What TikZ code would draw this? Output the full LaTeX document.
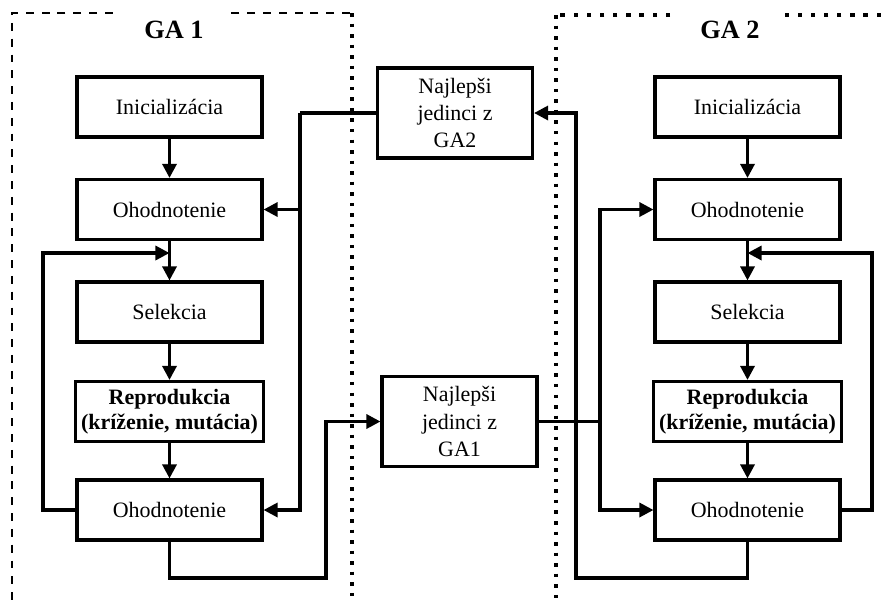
\documentclass[tikz,border=0pt]{standalone}
\usepackage{fontspec}
\setmainfont{Liberation Serif}
\usetikzlibrary{positioning}
\usetikzlibrary{arrows.meta}

\begin{document}
\begin{tikzpicture}[x=0.02cm,y=-0.02cm,
    krok/.style={draw,line width=1.8pt,minimum width=3.7cm,minimum height=1.2cm,font=\fontsize{12.5}{14.5}\selectfont,align=center},
    najlepsi/.style={draw,line width=1.8pt,minimum width=3.1cm,minimum height=1.8cm,font=\fontsize{12.5}{15.5}\selectfont,align=center},
    spoj/.style={line width=1.8pt},
    sip/.style={line width=1.8pt,-{Triangle[length=8pt,width=8pt]}},
    hranica/.style={line width=0.7pt,dash pattern=on 4.5pt off 4.5pt},
    bodky/.style={line width=2pt,dash pattern=on 2pt off 4pt},
    bodky2/.style={line width=2pt,dash pattern=on 2.5pt off 5pt},
    nadpis/.style={fill=white,font=\fontsize{15}{17}\selectfont\bfseries,minimum width=2.2cm,minimum height=1.1cm}]
    \useasboundingbox (0,0) rectangle (881,600);
    % hranice oboch GA
    \draw[hranica] (350,13) -- (12,13) -- (12,600);
    \draw[bodky] (352,13) -- (352,600);
    \draw[bodky2] (881,15) -- (556,15);
    \draw[bodky] (556,15) -- (556,600);
    \node[nadpis] (ga1) at (174,30) {GA 1};
    \node[nadpis] (ga2) at (730,30) {GA 2};
    % GA 1
    \node[krok] (init1) at (169.5,107) {Inicializácia};
    \node[krok] (eval1) at (169.5,209.5) {Ohodnotenie};
    \node[krok] (sel1) at (169.5,312) {Selekcia};
    \node[krok,font=\fontsize{12.5}{14.5}\selectfont\bfseries] (rep1) at (169.5,411.5) {Reprodukcia\\(kríženie, mutácia)};
    \node[krok] (evalb1) at (169.5,510) {Ohodnotenie};
    % GA 2
    \node[krok] (init2) at (747.5,107) {Inicializácia};
    \node[krok] (eval2) at (747.5,209.5) {Ohodnotenie};
    \node[krok] (sel2) at (747.5,312) {Selekcia};
    \node[krok,font=\fontsize{12.5}{14.5}\selectfont\bfseries] (rep2) at (747.5,411.5) {Reprodukcia\\(kríženie, mutácia)};
    \node[krok] (evalb2) at (747.5,510) {Ohodnotenie};
    % migracia
    \node[najlepsi] (best2) at (455,113) {Najlepši\\jedinci z\\GA2};
    \node[najlepsi] (best1) at (459.5,421.5) {Najlepši\\jedinci z\\GA1};
    \coordinate (k1) at (169.5,253);
    \coordinate (k2) at (747.5,253);
    \coordinate (b2) at (300,113);
    \coordinate (b1) at (600,421.5);
    % toky v GA 1
    \draw[sip] (init1) -- (eval1);
    \draw[sip] (eval1) -- (sel1);
    \draw[sip] (sel1) -- (rep1);
    \draw[sip] (rep1) -- (evalb1);
    \draw[sip] (evalb1.west) -| (43,253) -- (k1);
    \draw[spoj] (best2.west) -- (b2);
    \draw[sip] (b2) |- (eval1);
    \draw[sip] (b2) |- (evalb1);
    \draw[sip] (evalb1.south) |- (326,578) |- (best1.west);
    % toky v GA 2
    \draw[sip] (init2) -- (eval2);
    \draw[sip] (eval2) -- (sel2);
    \draw[sip] (sel2) -- (rep2);
    \draw[sip] (rep2) -- (evalb2);
    \draw[sip] (evalb2.east) -| (872,253) -- (k2);
    \draw[spoj] (best1.east) -- (b1);
    \draw[sip] (b1) |- (eval2);
    \draw[sip] (b1) |- (evalb2);
    \draw[sip] (evalb2.south) |- (576,578) |- (best2.east);
\end{tikzpicture}
\end{document}
